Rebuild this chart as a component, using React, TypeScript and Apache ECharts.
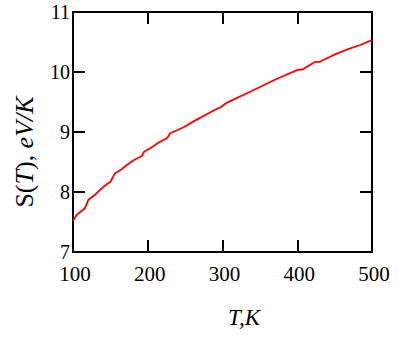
import React, { useEffect, useRef } from "react";
import * as echarts from "echarts";

const temperatures = [100, 105, 116, 120.5, 129, 141, 150, 156, 165, 172, 181, 192, 195, 207, 214, 226, 230, 248, 263, 290, 297, 306, 337, 370, 401, 407, 424, 430, 448, 468, 484, 500];
const entropy = [7.52, 7.62, 7.73, 7.87, 7.95, 8.09, 8.17, 8.31, 8.38, 8.45, 8.53, 8.6, 8.67, 8.76, 8.82, 8.9, 8.98, 9.08, 9.19, 9.37, 9.41, 9.49, 9.67, 9.87, 10.04, 10.04, 10.17, 10.17, 10.28, 10.38, 10.45, 10.53];
const xRange = [100, 500];
const yRange = [7, 11];
const xLabel = "T,K";

const FONT = "Liberation Serif";

export default function App() {
  const ref = useRef<HTMLDivElement>(null);
  useEffect(() => {
    if (!ref.current) return;
    const chart = echarts.init(ref.current, null, { renderer: "svg" });
    const axisLine = { show: true, onZero: false, lineStyle: { color: "#000", width: 2 } };
    const axisTick = { show: true, inside: true, length: 12, lineStyle: { color: "#000", width: 2 } };
    chart.setOption({
      animation: false,
      backgroundColor: "#fff",
      textStyle: { fontFamily: FONT },
      grid: { left: 73, right: 26, top: 12, bottom: 88, containLabel: false },
      xAxis: [
        {
          type: "value", position: "bottom", min: xRange[0], max: xRange[1], interval: 100,
          axisLine, axisTick, splitLine: { show: false },
          axisLabel: { color: "#000", fontFamily: FONT, fontSize: 21, margin: 13, lineHeight: 18, padding: [0, 0, 0, 4] },
        },
        {
          type: "value", position: "top", min: xRange[0], max: xRange[1], interval: 100,
          axisLine, axisTick, splitLine: { show: false }, axisLabel: { show: false },
        },
      ],
      yAxis: [
        {
          type: "value", position: "left", min: yRange[0], max: yRange[1], interval: 1,
          axisLine, axisTick, splitLine: { show: false },
          axisLabel: { color: "#000", fontFamily: FONT, fontSize: 20, margin: 3, lineHeight: 16, padding: [0, 0, 2, 0] },
        },
        {
          type: "value", position: "right", min: yRange[0], max: yRange[1], interval: 1,
          axisLine, axisTick, splitLine: { show: false }, axisLabel: { show: false },
        },
      ],
      series: [
        {
          type: "line",
          data: temperatures.map((t, i) => [t, entropy[i]]),
          showSymbol: false,
          lineStyle: { color: "#ff0000", width: 1.8 },
          xAxisIndex: 0,
          yAxisIndex: 0,
        },
      ],
      graphic: [
        {
          type: "text",
          x: 244,
          y: 317,
          style: {
            text: xLabel,
            fontFamily: FONT,
            fontSize: 23,
            fontStyle: "italic",
            fill: "#000",
            align: "center",
            verticalAlign: "middle",
          },
        },
        {
          type: "text",
          x: 24,
          y: 152,
          rotation: Math.PI / 2,
          style: {
            text: "{n|S(}{i|T}{n|), }{i|eV/K}",
            rich: {
              n: { fontFamily: FONT, fontSize: 26, fill: "#000" },
              i: { fontFamily: FONT, fontSize: 26, fontStyle: "italic", fill: "#000" },
            },
            align: "center",
            verticalAlign: "middle",
            fill: "#000",
          },
        },
      ],
    });
    return () => chart.dispose();
  }, []);
  return <div ref={ref} style={{ position: "absolute", left: 0, top: 0, width: 398, height: 340 }} />;
}
